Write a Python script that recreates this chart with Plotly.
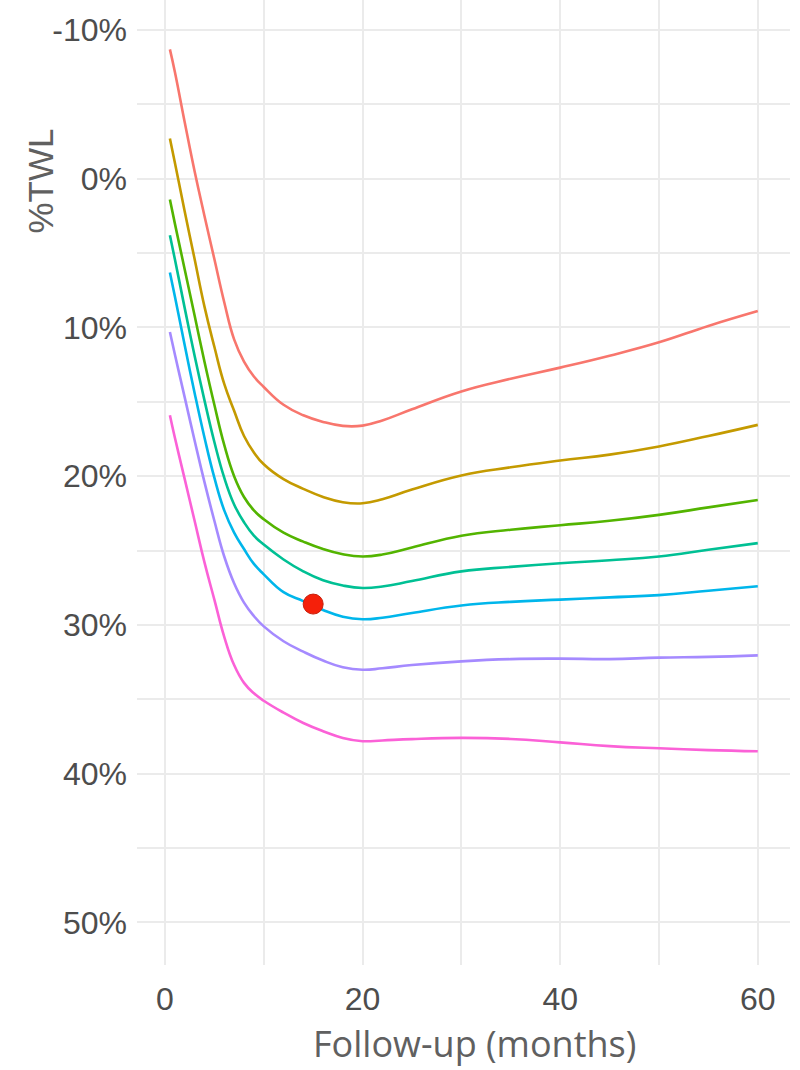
import plotly.graph_objects as go

months = [0.5, 1, 2, 3, 4, 5, 6, 7, 8, 9, 10, 12, 14, 16, 18, 20, 22, 25, 30, 35, 40, 45, 50, 55, 60]

series_red    = [-8.7, -7.2, -3.8, -0.5, 2.5, 5.4, 8.3, 10.8, 12.3, 13.3, 14.0, 15.2, 15.9, 16.35, 16.62, 16.6, 16.25, 15.5, 14.3, 13.45, 12.7, 11.9, 11.0, 9.9, 8.9]
series_gold   = [-2.7, -1.1, 2.2, 5.4, 8.6, 11.3, 13.8, 15.6, 17.3, 18.4, 19.2, 20.2, 20.85, 21.4, 21.75, 21.82, 21.55, 20.9, 19.95, 19.4, 18.95, 18.55, 18.0, 17.3, 16.55]
series_green  = [1.4, 3.0, 6.1, 9.2, 12.3, 15.2, 17.9, 20.0, 21.4, 22.3, 22.9, 23.8, 24.4, 24.9, 25.25, 25.4, 25.27, 24.8, 24.0, 23.6, 23.3, 23.0, 22.6, 22.1, 21.6]
series_teal   = [3.8, 5.4, 8.7, 11.9, 14.9, 17.7, 20.1, 21.9, 23.1, 24.0, 24.6, 25.6, 26.4, 27.0, 27.35, 27.52, 27.42, 27.05, 26.4, 26.1, 25.85, 25.65, 25.4, 24.95, 24.5]
series_blue   = [6.3, 7.9, 11.2, 14.4, 17.4, 20.1, 22.3, 23.8, 24.9, 25.9, 26.6, 27.8, 28.4, 29.0, 29.45, 29.62, 29.52, 29.2, 28.7, 28.45, 28.3, 28.15, 28.0, 27.7, 27.4]
series_purple = [10.3, 11.8, 14.7, 17.6, 20.4, 23.0, 25.4, 27.2, 28.5, 29.4, 30.1, 31.1, 31.8, 32.4, 32.85, 33.02, 32.92, 32.7, 32.45, 32.3, 32.27, 32.3, 32.2, 32.15, 32.05]
series_pink   = [15.9, 17.4, 20.2, 23.0, 25.8, 28.3, 30.8, 32.7, 33.9, 34.6, 35.1, 35.9, 36.6, 37.15, 37.6, 37.82, 37.77, 37.68, 37.6, 37.67, 37.9, 38.15, 38.3, 38.42, 38.5]

series_colors = ["#F8766D", "#C49A00", "#53B400", "#00C094", "#00B6EB", "#A58AFF", "#FB61D7"]

point_x = [15]
point_y = [28.6]

y_tickvals = [-10, 0, 10, 20, 30, 40, 50]
y_ticktext = ["-10%", "0%", "10%", "20%", "30%", "40%", "50%"]
x_tickvals = [0, 20, 40, 60]
x_ticktext = ["0", "20", "40", "60"]

fig = go.Figure()
all_series = [series_red, series_gold, series_green, series_teal, series_blue, series_purple, series_pink]
for ys, col in zip(all_series, series_colors):
    fig.add_trace(go.Scatter(
        x=months, y=ys, mode="lines",
        line=dict(color=col, width=2.6, shape="spline", smoothing=1.3),
        showlegend=False, hoverinfo="skip",
    ))

fig.add_trace(go.Scatter(
    x=point_x, y=point_y, mode="markers",
    marker=dict(color="#F5200A", size=20, line=dict(color="#C8200C", width=1)),
    showlegend=False,
))

grid_col = "#EBEBEB"
fig.update_layout(
    width=800, height=1070,
    margin=dict(l=137, r=10, t=0, b=105),
    paper_bgcolor="white", plot_bgcolor="white",
    xaxis=dict(
        range=[-2.83, 63.26], tickvals=x_tickvals, ticktext=x_ticktext,
        showgrid=True, gridcolor=grid_col, gridwidth=2, zeroline=False, showline=False,
        minor=dict(dtick=10, tick0=0, showgrid=True, gridcolor=grid_col, gridwidth=2),
        tickfont=dict(family="Liberation Sans, Arial", size=32, color="#4D4D4D"),
        ticks="", ticklabelstandoff=12,
    ),
    yaxis=dict(
        range=[52.87, -12.02], tickvals=y_tickvals, ticktext=y_ticktext,
        showgrid=True, gridcolor=grid_col, gridwidth=2, zeroline=False, showline=False,
        minor=dict(dtick=5, tick0=0, showgrid=True, gridcolor=grid_col, gridwidth=2),
        tickfont=dict(family="Liberation Sans, Arial", size=32, color="#4D4D4D"),
        ticks="", ticklabelstandoff=9,
    ),
    annotations=[
        dict(text="%TWL", xref="paper", yref="paper", x=-0.1478, y=0.8124,
             textangle=-90, showarrow=False, xanchor="center", yanchor="middle",
             font=dict(family="Liberation Sans, Arial", size=35, color="#606060")),
        dict(text="Follow-up (months)", xref="paper", yref="paper", x=0.5176, y=-0.0815,
             showarrow=False, xanchor="center", yanchor="middle",
             font=dict(family="Open Sans", size=36, color="#606060")),
    ],
)

fig.write_html("out.html", config={"displayModeBar": False},
               post_script="document.body.style.margin='0';")
